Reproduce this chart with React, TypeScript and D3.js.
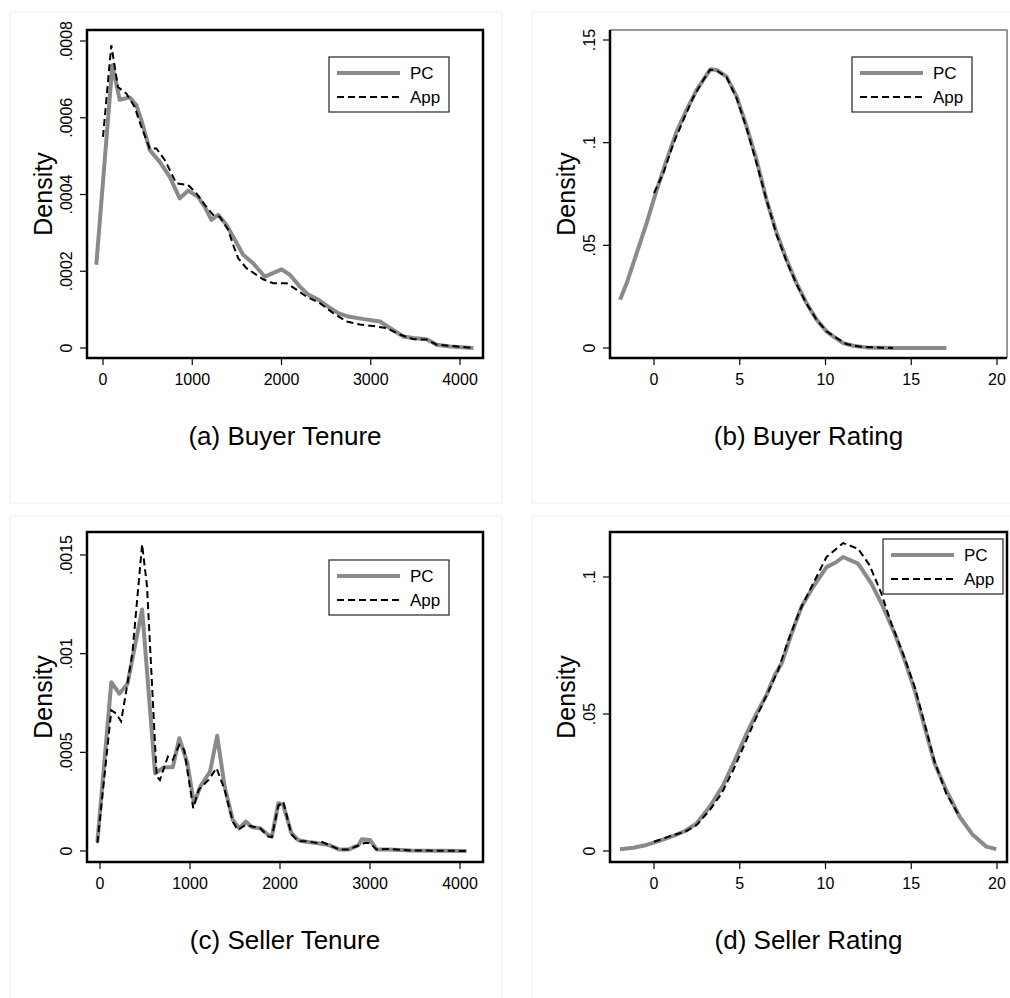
import React from 'react';
import { scaleLinear, line } from 'd3';

type Pt = [number, number];

// (a) Buyer Tenure
const buyerTenurePC: Pt[] = [
  [-75, 0.000217], [105, 0.000737], [187, 0.000647], [299, 0.000653], [374, 0.000633],
  [430, 0.000594], [523, 0.000516], [636, 0.000485], [748, 0.000446], [860, 0.00039],
  [953, 0.00041], [1065, 0.000394], [1140, 0.000368], [1215, 0.000334], [1290, 0.000347],
  [1383, 0.000321], [1477, 0.000282], [1570, 0.000243], [1682, 0.000221], [1813, 0.000186],
  [2000, 0.000205], [2093, 0.000191], [2206, 0.00016], [2299, 0.000139], [2411, 0.000126],
  [2523, 0.000108], [2636, 0.000091], [2748, 0.000082], [2953, 0.000074], [3103, 0.000069],
  [3215, 0.000052], [3364, 0.00003], [3477, 0.000026], [3626, 0.000023], [3738, 0.0000087],
  [3888, 0.000004], [4150, 0],
];
const buyerTenureApp: Pt[] = [
  [0, 0.00055], [93, 0.000789], [168, 0.00068], [262, 0.000663], [355, 0.000628],
  [430, 0.000576], [523, 0.00052], [598, 0.00052], [692, 0.00049], [822, 0.000429],
  [953, 0.000425], [1047, 0.000403], [1140, 0.000373], [1234, 0.000347], [1308, 0.000342],
  [1402, 0.000308], [1458, 0.000269], [1514, 0.000234], [1607, 0.000208], [1794, 0.000179],
  [1907, 0.000169], [2056, 0.000169], [2168, 0.000152], [2280, 0.000134], [2430, 0.000117],
  [2579, 0.000091], [2729, 0.000069], [2879, 0.000061], [3065, 0.000056], [3177, 0.000052],
  [3327, 0.000035], [3477, 0.000023], [3626, 0.000022], [3738, 0.0000087], [4150, 0],
];

// (b) Buyer Rating
const buyerRatingPC: Pt[] = [
  [-1.98, 0.0235], [-1.59, 0.0316], [-1.01, 0.0462], [-0.43, 0.0608], [0.16, 0.077],
  [0.74, 0.0916], [1.32, 0.1054], [1.9, 0.116], [2.49, 0.1257], [3.07, 0.133],
  [3.3, 0.1358], [3.65, 0.1354], [4.23, 0.1322], [4.82, 0.1224], [5.4, 0.1078],
  [5.98, 0.0916], [6.56, 0.0722], [7.15, 0.056], [7.73, 0.043], [8.31, 0.0316],
  [8.89, 0.0219], [9.48, 0.0138], [10.06, 0.0081], [10.45, 0.0057], [11.03, 0.0024],
  [11.61, 0.0011], [12.39, 0.0003], [13.94, 0.00005], [17.05, 0],
];
const buyerRatingApp: Pt[] = [
  [0, 0.0755], [0.54, 0.085], [1.13, 0.0995], [1.71, 0.111], [2.29, 0.122],
  [2.87, 0.1305], [3.26, 0.1355], [3.65, 0.1352], [4.23, 0.1319], [4.82, 0.1216],
  [5.4, 0.107], [5.98, 0.09], [6.56, 0.0722], [7.15, 0.0551], [7.73, 0.0422],
  [8.31, 0.0311], [8.89, 0.0216], [9.48, 0.0138], [10.06, 0.0081], [10.64, 0.0049],
  [11.22, 0.0019], [12.0, 0.0006], [13.94, 0],
];

// (c) Seller Tenure
const sellerTenurePC: Pt[] = [
  [-29, 0.000047], [126, 0.000855], [216, 0.000797], [306, 0.000848], [468, 0.001224],
  [612, 0.000394], [712, 0.000425], [809, 0.000425], [881, 0.000572], [971, 0.000445],
  [1043, 0.000242], [1115, 0.000327], [1223, 0.000403], [1302, 0.000584], [1385, 0.000327],
  [1475, 0.000157], [1547, 0.000115], [1619, 0.000149], [1691, 0.00012], [1781, 0.000115],
  [1871, 0.000081], [1909, 0.000073], [1982, 0.000242], [2036, 0.000233], [2127, 0.00009],
  [2200, 0.000056], [2291, 0.000047], [2418, 0.000039], [2545, 0.00003], [2655, 0.000008],
  [2764, 0.000008], [2873, 0.00003], [2909, 0.000059], [3000, 0.000056], [3073, 0.000008],
  [3200, 0.000008], [3455, 0.000003], [4073, 0],
];
const sellerTenureApp: Pt[] = [
  [-29, 0.00004], [126, 0.000713], [180, 0.000696], [234, 0.000657], [288, 0.0008],
  [360, 0.001004], [468, 0.001554], [522, 0.001343], [630, 0.000378], [666, 0.00036],
  [755, 0.000479], [809, 0.000462], [881, 0.000538], [935, 0.000513], [1036, 0.000217],
  [1097, 0.00031], [1205, 0.00036], [1295, 0.00042], [1385, 0.00031], [1475, 0.000149],
  [1529, 0.000107], [1619, 0.000132], [1781, 0.000115], [1871, 0.000073], [1909, 0.00007],
  [1982, 0.00023], [2036, 0.00025], [2127, 0.000085], [2200, 0.00005], [2291, 0.00005],
  [2418, 0.00004], [2470, 0.000045], [2545, 0.00003], [2655, 0.000008], [2764, 0.000008],
  [2873, 0.000028], [2945, 0.000042], [3000, 0.00004], [3073, 0.000008], [3200, 0.00001],
  [3455, 0.000003], [4073, 0],
];

// (d) Seller Rating
const sellerRatingPC: Pt[] = [
  [-1.98, 0.0006], [-1.2, 0.0012], [-0.43, 0.0022], [0.35, 0.0038], [1.13, 0.0055],
  [1.81, 0.0073], [2.49, 0.0101], [3.26, 0.0162], [4.04, 0.0241], [4.72, 0.0332],
  [5.4, 0.0429], [5.98, 0.0502], [6.56, 0.0569], [7.05, 0.0642], [7.44, 0.0684],
  [8.02, 0.0793], [8.6, 0.0891], [9.28, 0.0964], [10.06, 0.1036], [10.64, 0.1055],
  [11.03, 0.1073], [11.9, 0.1049], [12.68, 0.0976], [13.36, 0.0891], [14.04, 0.0793],
  [14.62, 0.0696], [15.2, 0.0587], [15.78, 0.0453], [16.36, 0.032], [17.04, 0.0222],
  [17.82, 0.0125], [18.6, 0.0058], [19.38, 0.0016], [19.96, 0.0007],
];
const sellerRatingApp: Pt[] = [
  [0, 0.0034], [1.13, 0.0058], [1.81, 0.007], [2.49, 0.0095], [3.26, 0.015],
  [3.94, 0.021], [4.62, 0.0295], [5.3, 0.0392], [5.98, 0.049], [6.66, 0.0581],
  [7.24, 0.066], [7.83, 0.0769], [8.5, 0.0878], [9.28, 0.0976], [10.06, 0.1073],
  [11.03, 0.1124], [11.9, 0.1103], [12.58, 0.1042], [13.26, 0.0939], [13.84, 0.083],
  [14.52, 0.072], [15.2, 0.0599], [15.78, 0.0465], [16.36, 0.0326], [17.04, 0.021],
  [17.82, 0.0125],
];

const tenureXTicks = [0, 1000, 2000, 3000, 4000];
const ratingXTicks = [0, 5, 10, 15, 20];
const buyerTenureYTicks = [0, 0.0002, 0.0004, 0.0006, 0.0008];
const buyerTenureYLabels = ['0', '.0002', '.0004', '.0006', '.0008'];
const buyerRatingYTicks = [0, 0.05, 0.1, 0.15];
const buyerRatingYLabels = ['0', '.05', '.1', '.15'];
const sellerTenureYTicks = [0, 0.0005, 0.001, 0.0015];
const sellerTenureYLabels = ['0', '.0005', '.001', '.0015'];
const sellerRatingYTicks = [0, 0.05, 0.1];
const sellerRatingYLabels = ['0', '.05', '.1'];
const seriesNames = ['PC', 'App'];

const FONT = '"Liberation Sans", Arial, Helvetica, sans-serif';
const GRAY = '#8a8a8a';

type PanelProps = {
  pc: Pt[];
  app: Pt[];
  box: { l: number; r: number; t: number; b: number };
  xDomain: [number, number];
  xRange: [number, number];
  yDomain: [number, number];
  yRange: [number, number];
  xTicks: number[];
  yTicks: number[];
  yLabels: string[];
  title: string;
  legend: { x: number; y: number };
  outer: { x: number; y: number; w: number; h: number };
  thinTopRight?: boolean;
};

const Panel = (p: PanelProps) => {
  const x = scaleLinear().domain(p.xDomain).range(p.xRange);
  const y = scaleLinear().domain(p.yDomain).range(p.yRange);
  const path = line<Pt>()
    .x((d) => x(d[0]))
    .y((d) => y(d[1]));
  const { l, r, t, b } = p.box;
  const tick = 7;
  const cx = (l + r) / 2;
  const cy = (t + b) / 2;
  return (
    <g>
      <rect
        x={p.outer.x}
        y={p.outer.y}
        width={p.outer.w}
        height={p.outer.h}
        fill="none"
        stroke="#efefef"
      />
      {/* data */}
      <path d={path(p.pc) || ''} fill="none" stroke={GRAY} strokeWidth={4} strokeLinejoin="round" />
      <path
        d={path(p.app) || ''}
        fill="none"
        stroke="#000"
        strokeWidth={2}
        strokeDasharray="7,4"
      />
      {/* frame */}
      {p.thinTopRight ? (
        <g>
          <path d={`M${l},${t}H${r}V${b}`} fill="none" stroke="#777" strokeWidth={1.5} />
          <path d={`M${l},${t}V${b}H${r}`} fill="none" stroke="#000" strokeWidth={2.5} />
        </g>
      ) : (
        <rect x={l} y={t} width={r - l} height={b - t} fill="none" stroke="#000" strokeWidth={2.5} />
      )}
      {/* x axis */}
      {p.xTicks.map((v) => (
        <g key={v} transform={`translate(${x(v)},${b})`}>
          <line y2={tick} stroke="#000" strokeWidth={1.2} />
          <text y={27} textAnchor="middle" fontSize={16} fontFamily={FONT}>
            {v}
          </text>
        </g>
      ))}
      {/* y axis */}
      {p.yTicks.map((v, i) => (
        <g key={v} transform={`translate(${l},${y(v)})`}>
          <line x2={-tick} stroke="#000" strokeWidth={1.2} />
          <text
            transform="translate(-21,0) rotate(-90)"
            dy="0.35em"
            textAnchor="middle"
            fontSize={16}
            fontFamily={FONT}
          >
            {p.yLabels[i]}
          </text>
        </g>
      ))}
      <text
        transform={`translate(${l - 44},${cy}) rotate(-90)`}
        dy="0.35em"
        textAnchor="middle"
        fontSize={25}
        fontFamily={FONT}
      >
        Density
      </text>
      <text x={cx} y={b + 87} textAnchor="middle" fontSize={26} fontFamily={FONT}>
        {p.title}
      </text>
      {/* legend */}
      <g transform={`translate(${p.legend.x},${p.legend.y})`}>
        <rect width={120} height={55} fill="#fff" stroke="#333" strokeWidth={1.3} />
        <line x1={8} x2={71} y1={16} y2={16} stroke={GRAY} strokeWidth={4} />
        <line x1={8} x2={71} y1={40} y2={40} stroke="#000" strokeWidth={2} strokeDasharray="7,4" />
        <text x={81} y={16} dy="0.35em" fontSize={17} fontFamily={FONT}>
          {seriesNames[0]}
        </text>
        <text x={81} y={40} dy="0.35em" fontSize={17} fontFamily={FONT}>
          {seriesNames[1]}
        </text>
      </g>
    </g>
  );
};

export default function App() {
  return (
    <svg
      width={1010}
      height={998}
      style={{ position: 'absolute', left: 0, top: 0, background: '#fff' }}
    >
      <rect width={1010} height={998} fill="#fff" />
      <Panel
        pc={buyerTenurePC}
        app={buyerTenureApp}
        box={{ l: 87, r: 483, t: 30, b: 358 }}
        xDomain={[0, 4000]}
        xRange={[103, 460]}
        yDomain={[0, 0.0008]}
        yRange={[348, 41]}
        xTicks={tenureXTicks}
        yTicks={buyerTenureYTicks}
        yLabels={buyerTenureYLabels}
        title="(a) Buyer Tenure"
        legend={{ x: 329, y: 57 }}
        outer={{ x: 10, y: 12, w: 492, h: 491 }}
      />
      <Panel
        pc={buyerRatingPC}
        app={buyerRatingApp}
        box={{ l: 610, r: 1007, t: 30, b: 358 }}
        xDomain={[0, 20]}
        xRange={[654, 997]}
        yDomain={[0, 0.15]}
        yRange={[348, 40]}
        xTicks={ratingXTicks}
        yTicks={buyerRatingYTicks}
        yLabels={buyerRatingYLabels}
        title="(b) Buyer Rating"
        legend={{ x: 852, y: 57 }}
        outer={{ x: 532, y: 12, w: 490, h: 491 }}
        thinTopRight
      />
      <Panel
        pc={sellerTenurePC}
        app={sellerTenureApp}
        box={{ l: 87, r: 483, t: 532, b: 862 }}
        xDomain={[0, 4000]}
        xRange={[100, 460]}
        yDomain={[0, 0.0015]}
        yRange={[851, 555]}
        xTicks={tenureXTicks}
        yTicks={sellerTenureYTicks}
        yLabels={sellerTenureYLabels}
        title="(c) Seller Tenure"
        legend={{ x: 329, y: 560 }}
        outer={{ x: 10, y: 516, w: 492, h: 491 }}
      />
      <Panel
        pc={sellerRatingPC}
        app={sellerRatingApp}
        box={{ l: 610, r: 1007, t: 532, b: 862 }}
        xDomain={[0, 20]}
        xRange={[654, 997]}
        yDomain={[0, 0.1]}
        yRange={[851, 577]}
        xTicks={ratingXTicks}
        yTicks={sellerRatingYTicks}
        yLabels={sellerRatingYLabels}
        title="(d) Seller Rating"
        legend={{ x: 883, y: 539 }}
        outer={{ x: 532, y: 516, w: 490, h: 491 }}
      />
    </svg>
  );
}
